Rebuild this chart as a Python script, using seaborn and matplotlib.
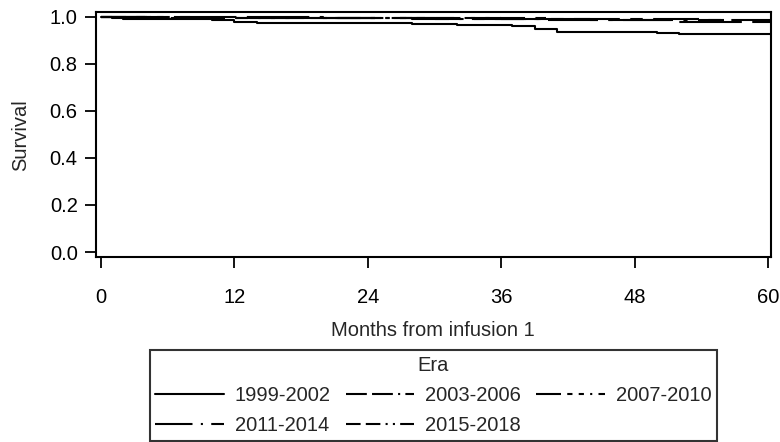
import numpy as np
import pandas as pd
import matplotlib
matplotlib.use("Agg")
import matplotlib.pyplot as plt
from matplotlib.lines import Line2D
import seaborn as sns

eras = ["1999-2002", "2003-2006", "2007-2010", "2011-2014", "2015-2018"]

t_1999 = [0, 1, 2, 10, 12, 14, 28, 32, 37, 39, 41, 46, 50, 52, 60.3]
s_1999 = [1.0, 0.997, 0.993, 0.988, 0.98, 0.975, 0.971, 0.966, 0.961, 0.95, 0.935, 0.934, 0.931, 0.926, 0.926]

t_2003 = [0, 20, 36, 44, 52, 60.3]
s_2003 = [1.0, 0.997, 0.993, 0.988, 0.98, 0.98]

t_2007 = [0, 8, 30, 40, 54, 60.3]
s_2007 = [1.0, 0.997, 0.993, 0.99, 0.985, 0.985]

t_2011 = [0, 5, 28, 40, 56]
s_2011 = [1.0, 0.995, 0.99, 0.986, 0.986]

t_2015 = [0, 4, 20, 40]
s_2015 = [1.0, 0.997, 0.994, 0.994]

times = [t_1999, t_2003, t_2007, t_2011, t_2015]
survs = [s_1999, s_2003, s_2007, s_2011, s_2015]

rows = []
for era, tt, ss in zip(eras, times, survs):
    for t, s in zip(tt, ss):
        rows.append({"Months": t, "Survival": s, "Era": era})
df = pd.DataFrame(rows)

sns.set_style("ticks")
plt.rcParams["font.family"] = ["Liberation Sans", "DejaVu Sans"]
FS = 14.5

fig = plt.figure(figsize=(7.8, 4.42), dpi=100)
ax = fig.add_axes([95.7 / 780, 1 - 257.3 / 442, (771 - 95.7) / 780, (257.3 - 12) / 442])

# dash patterns used on the curves (SAS scales patterns up along long lines)
plot_dashes = {
    "1999-2002": "",
    "2003-2006": (30, 5),
    "2007-2010": (22, 5, 6, 5),
    "2011-2014": (24, 5, 2, 5),
    "2015-2018": (12, 5, 12, 5, 2, 5, 2, 5),
}
# dash patterns shown in the legend samples
legend_dashes = {
    "1999-2002": None,
    "2003-2006": (10, 2.5, 10, 2.5, 1, 2.5),
    "2007-2010": (12, 3, 2.5, 3, 2.5, 3, 1, 3),
    "2011-2014": (18, 4, 1, 4),
    "2015-2018": (7, 2.5, 7, 2.5, 1, 2.5, 1, 2.5),
}
sns.lineplot(data=df, x="Months", y="Survival", style="Era", dashes=plot_dashes,
             color="black", linewidth=1.5, estimator=None, sort=False,
             drawstyle="steps-post", ax=ax, legend=False)

ax.set_xlim(-0.48, 60.27)
ax.set_ylim(-0.0225, 1.021)
ax.set_xticks([0, 12, 24, 36, 48, 60])
ax.set_yticks([0.0, 0.2, 0.4, 0.6, 0.8, 1.0])
ax.set_yticklabels(["0.0", "0.2", "0.4", "0.6", "0.8", "1.0"])
ax.tick_params(direction="out", length=8, width=1.3, labelsize=FS, colors="black", pad=5)
ax.tick_params(axis="x", pad=14)
for sp in ax.spines.values():
    sp.set_visible(True)
    sp.set_linewidth(1.5)
    sp.set_color("black")
ax.set_xlabel("Months from infusion 1", fontsize=FS, labelpad=10)
ax.set_ylabel("Survival", fontsize=FS, labelpad=14)

handles = []
for era in eras:
    d = legend_dashes[era]
    if d is None:
        h = Line2D([], [], color="black", linewidth=1.5, linestyle="-")
    else:
        h = Line2D([], [], color="black", linewidth=1.5, linestyle=(0, d))
    handles.append(h)
order = [0, 3, 1, 4, 2]
handles = [handles[i] for i in order]
labels = [eras[i] for i in order]
leg = ax.legend(handles, labels, title="Era", ncol=3, loc="upper center",
                bbox_to_anchor=(0.5, 1 - (350 - 12) / (257.3 - 12)), frameon=True, fancybox=False,
                edgecolor="black", fontsize=FS, title_fontsize=FS,
                handlelength=3.4, columnspacing=0.75, handletextpad=0.55,
                borderpad=0.28, labelspacing=0.56, borderaxespad=0)
leg.get_frame().set_linewidth(1.5)

fig.savefig("out.png", dpi=100)
